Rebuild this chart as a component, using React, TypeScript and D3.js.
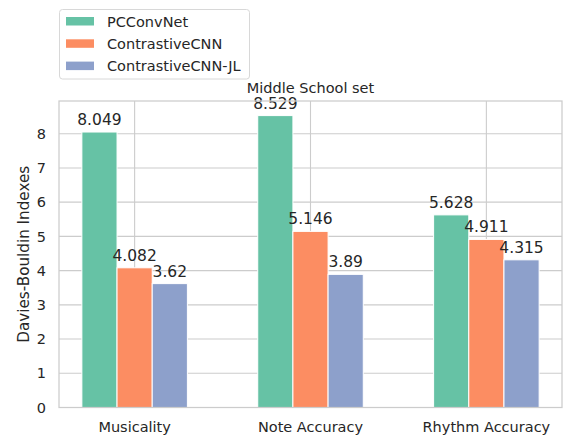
import React from "react";
import * as d3 from "d3";

const categories = ["Musicality", "Note Accuracy", "Rhythm Accuracy"];
const seriesNames = ["PCConvNet", "ContrastiveCNN", "ContrastiveCNN-JL"];
const pcconvnet = [8.049, 8.529, 5.628];
const contrastiveCNN = [4.082, 5.146, 4.911];
const contrastiveCNNJL = [3.62, 3.89, 4.315];
const yTicks = [0, 1, 2, 3, 4, 5, 6, 7, 8];
const colors = ["#66c2a5", "#fc8d62", "#8da0cb"];

const W = 565, H = 437;
const left = 59, right = 562, top = 101, bottom = 407.5;
const font = "'DejaVu Sans', sans-serif";
const textColor = "#262626";
const gridColor = "#cccccc";

export default function App() {
  const series = [pcconvnet, contrastiveCNN, contrastiveCNNJL];
  const x = d3.scaleLinear().domain([-0.43, 2.43]).range([left, right]);
  const ymax = d3.max(series.flat())! * 1.05;
  const y = d3.scaleLinear().domain([0, ymax]).range([bottom, top]);
  const bw = 0.2;
  const offsets = [-0.2, 0, 0.2];

  return (
    <svg width={W} height={H} style={{ position: "absolute", left: 0, top: 0, background: "#fff" }}>
      <rect x={0} y={0} width={W} height={H} fill="#fff" />
      {yTicks.map((t) => (
        <line key={"gy" + t} x1={left} x2={right} y1={y(t)} y2={y(t)} stroke={gridColor} strokeWidth={1.1} />
      ))}
      {categories.map((c, i) => (
        <line key={"gx" + i} x1={x(i)} x2={x(i)} y1={top} y2={bottom} stroke={gridColor} strokeWidth={1.1} />
      ))}
      {series.map((vals, s) =>
        vals.map((v, i) => {
          const x0 = x(i + offsets[s] - bw / 2);
          const x1 = x(i + offsets[s] + bw / 2);
          return (
            <rect key={`b${s}-${i}`} x={x0} y={y(v)} width={x1 - x0} height={y(0) - y(v)} fill={colors[s]} stroke="#fff" strokeWidth={1} />
          );
        })
      )}
      {series.map((vals, s) =>
        vals.map((v, i) => (
          <text key={`l${s}-${i}`} x={x(i + offsets[s])} y={y(v) - 7} textAnchor="middle" fontFamily={font} fontSize={15.5} fill={textColor}>
            {String(v)}
          </text>
        ))
      )}
      <rect x={left} y={top} width={right - left} height={bottom - top} fill="none" stroke={gridColor} strokeWidth={1.25} />
      {yTicks.map((t) => (
        <text key={"yt" + t} x={46} y={y(t)} dy="0.36em" textAnchor="end" fontFamily={font} fontSize={14.5} fill={textColor}>
          {t}
        </text>
      ))}
      {categories.map((c, i) => (
        <text key={"xt" + i} x={x(i)} y={432} textAnchor="middle" fontFamily={font} fontSize={14.5} fill={textColor}>
          {c}
        </text>
      ))}
      <text transform={`translate(29,${(top + bottom) / 2}) rotate(-90)`} textAnchor="middle" fontFamily={font} fontSize={15.2} fill={textColor}>
        Davies-Bouldin Indexes
      </text>
      <text x={(left + right) / 2} y={93} textAnchor="middle" fontFamily={font} fontSize={14.5} fill={textColor}>
        Middle School set
      </text>
      <rect x={59.5} y={9.5} width={190} height={69.5} rx={3} fill="#fff" fillOpacity={0.8} stroke="#d8d8d8" strokeWidth={1} />
      {seriesNames.map((n, s) => (
        <g key={"lg" + s}>
          <rect x={66} y={17 + s * 22.3} width={28} height={8.5} fill={colors[s]} />
          <text x={107} y={21.5 + s * 22.3} dy="0.36em" fontFamily={font} fontSize={14.5} fill={textColor}>
            {n}
          </text>
        </g>
      ))}
    </svg>
  );
}
